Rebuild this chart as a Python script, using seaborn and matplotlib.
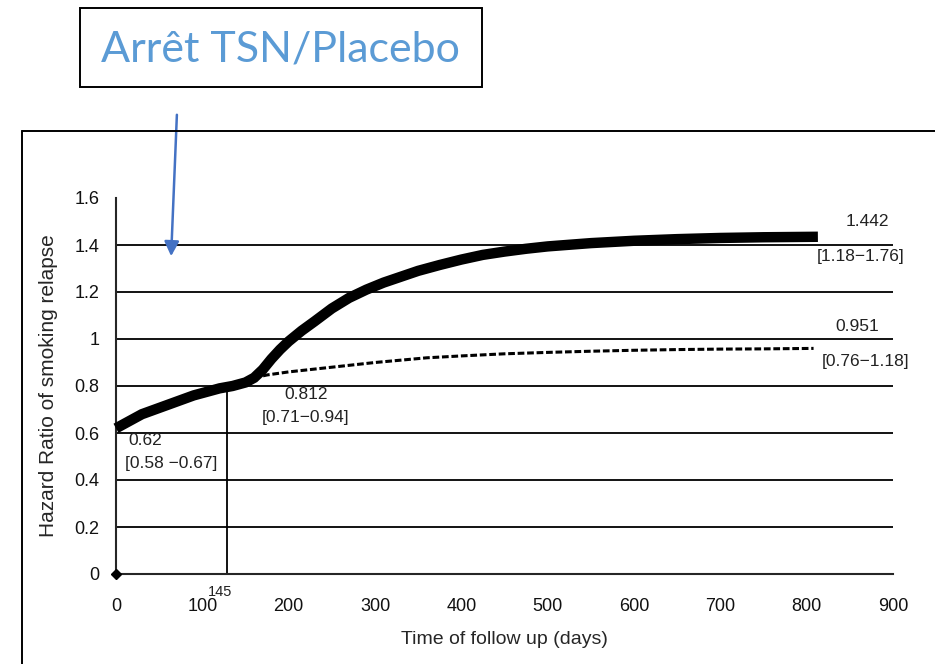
import numpy as np
import pandas as pd
import matplotlib
matplotlib.use("Agg")
import matplotlib.pyplot as plt
import seaborn as sns
from matplotlib.patches import Rectangle, FancyArrowPatch
from matplotlib.lines import Line2D

# Hazard ratio, NRT/placebo stop vs follow-up time
days_main = [0, 15, 30, 45, 60, 75, 90, 105, 120, 135, 150, 160, 170, 180, 190, 200,
             215, 230, 250, 270, 290, 310, 330, 350, 375, 400, 425, 450, 475, 500,
             550, 600, 650, 700, 750, 813]
hr_main = [0.62, 0.65, 0.68, 0.70, 0.72, 0.74, 0.76, 0.775, 0.79, 0.80, 0.815, 0.835,
           0.87, 0.915, 0.955, 0.99, 1.035, 1.075, 1.13, 1.175, 1.21, 1.24, 1.265, 1.29,
           1.315, 1.338, 1.358, 1.372, 1.384, 1.394, 1.408, 1.418, 1.425, 1.43, 1.433, 1.435]

days_dot = [150, 160, 175, 200, 225, 250, 275, 300, 330, 360, 400, 450, 500, 550,
            600, 650, 700, 750, 808]
hr_dot = [0.815, 0.835, 0.847, 0.86, 0.87, 0.88, 0.89, 0.90, 0.91, 0.92, 0.928, 0.937,
          0.943, 0.948, 0.952, 0.955, 0.957, 0.958, 0.96]

x_ticks = [0, 100, 200, 300, 400, 500, 600, 700, 800, 900]
y_ticks = [0, 0.2, 0.4, 0.6, 0.8, 1.0, 1.2, 1.4, 1.6]
y_tick_labels = ["0", "0.2", "0.4", "0.6", "0.8", "1", "1.2", "1.4", "1.6"]

cut_day = 128.6
cut_top = 0.81
cut_label = "145"

labels = [
    ("1.442", 870, 1.502),
    ("[1.18\u22121.76]", 862, 1.349),
    ("0.951", 859, 1.055),
    ("[0.76\u22121.18]", 868, 0.906),
    ("0.812", 220, 0.762),
    ("[0.71\u22120.94]", 219, 0.668),
    ("0.62", 34, 0.566),
    ("[0.58 \u22120.67]", 64, 0.472),
]

sns.set_style("white")
plt.rcParams["font.family"] = ["Liberation Sans", "DejaVu Sans"]

W, H = 935, 664
fig = plt.figure(figsize=(W / 100, H / 100), dpi=100)
fig.patch.set_facecolor("white")

def fx(px):
    return px / W

def fy(py):
    return 1 - py / H

ax = fig.add_axes([fx(116), fy(574), fx(893) - fx(116), fy(198) - fy(574)])

# Plot data
df_main = pd.DataFrame({"day": days_main, "hr": hr_main})
df_dot = pd.DataFrame({"day": days_dot, "hr": hr_dot})
sns.lineplot(data=df_main, x="day", y="hr", ax=ax, color="black", linewidth=7.5,
             estimator=None, sort=False, clip_on=False, solid_capstyle="butt",
             solid_joinstyle="miter", zorder=4)
sns.lineplot(data=df_dot, x="day", y="hr", ax=ax, color="black", linewidth=2.2,
             estimator=None, sort=False, linestyle=(0, (2.2, 0.9)), zorder=3)
ax.plot([0], [0], marker="D", color="black", markersize=5, clip_on=False, zorder=5)

# vertical marker line
ax.vlines(cut_day, 0, cut_top, color="black", linewidth=1.3, zorder=2)

ax.set_xlim(0, 900)
ax.set_ylim(0, 1.6)
ax.set_xticks(x_ticks)
ax.set_yticks(y_ticks)
ax.set_yticklabels(y_tick_labels)

# Grid lines (horizontal only, not at the top)
ax.grid(axis="y", color="black", linewidth=1.3, zorder=1)
ax.grid(axis="x", visible=False)
ax.get_ygridlines()[-1].set_visible(False)
ax.set_axisbelow(True)

ax.spines[["top", "right"]].set_visible(False)
ax.spines["left"].set_linewidth(1.5)
ax.spines["bottom"].set_linewidth(1.5)
ax.tick_params(axis="both", direction="out", length=5, width=1.3, color="black",
               labelsize=13, labelcolor="#111111")
ax.tick_params(axis="x", pad=12)
ax.tick_params(axis="y", pad=7)

ax.set_xlabel("Time of follow up (days)", fontsize=14, labelpad=12)
ax.set_ylabel("Hazard Ratio of smoking relapse", fontsize=15, labelpad=12)

for txt, xd, yd in labels:
    ax.text(xd, yd, txt, ha="center", va="center", fontsize=12.5, color="#222222",
            clip_on=False)

ax.text(cut_day - 8, -0.075, cut_label, ha="center", va="center", fontsize=10.5,
        color="#222222", clip_on=False)

# Outer frame of the scanned figure
fig.add_artist(Line2D([fx(22), 1.0], [fy(131), fy(131)], color="black", linewidth=1.4))
fig.add_artist(Line2D([fx(22), fx(22)], [fy(131), 0.0], color="black", linewidth=1.4))

# Title box
fig.add_artist(Rectangle((fx(80), fy(87)), fx(482) - fx(80), fy(8) - fy(87),
                         facecolor="white", edgecolor="black", linewidth=1.4))
fig.text(fx(280), fy(49), "Arrêt TSN/Placebo", ha="center", va="center",
         fontsize=31, color="#5B9BD5", family=["Lato", "DejaVu Sans"])

# Arrow
fig.add_artist(FancyArrowPatch((fx(177), fy(112)), (fx(171), fy(259)),
                               transform=fig.transFigure, arrowstyle="-|>",
                               mutation_scale=22, color="#4472C4", linewidth=1.8))

fig.savefig("out.png", dpi=100, facecolor="white")
